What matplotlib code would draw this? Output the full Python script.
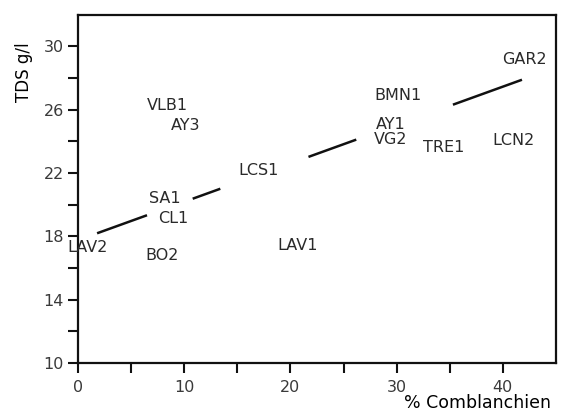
import matplotlib
matplotlib.use('Agg')
import matplotlib.pyplot as plt
import numpy as np

# sample labels and their positions (% Comblanchien, TDS g/l)
sites = ['GAR2', 'BMN1', 'AY1', 'VG2', 'TRE1', 'LCN2', 'VLB1', 'AY3',
         'LCS1', 'SA1', 'CL1', 'LAV2', 'BO2', 'LAV1']
comb = [42.0, 30.1, 29.4, 29.4, 34.4, 41.0, 8.4, 10.1,
        17.0, 8.2, 9.0, 0.95, 7.9, 20.7]
tds = [29.2, 26.9, 25.1, 24.1, 23.6, 24.05, 26.3, 25.0,
       22.15, 20.4, 19.1, 17.3, 16.8, 17.4]

# regression line, drawn in pieces between the labels
fit_slope = 0.2425
fit_intercept = 17.76
fit_pieces = [(1.8, 6.5), (10.8, 13.4), (21.7, 26.2), (35.3, 41.8)]

plt.rcParams['font.family'] = 'DejaVu Sans'

fig = plt.figure(figsize=(5.65, 4.17), dpi=100)
ax = fig.add_axes([0.138, 0.1295, 0.846, 0.835])

for x0, x1 in fit_pieces:
    xs = np.array([x0, x1])
    ax.plot(xs, fit_intercept + fit_slope * xs, color='#111111', lw=1.8,
            solid_capstyle='butt')

for name, x, y in zip(sites, comb, tds):
    ax.text(x, y, name, ha='center', va='center', fontsize=11.5,
            color='#2a2a2a')

ax.set_xlim(0, 45)
ax.set_ylim(10, 32)
ax.set_xticks([0, 10, 20, 30, 40])
ax.set_xticks([5, 15, 25, 35], minor=True)
ax.set_yticks([10, 14, 18, 22, 26, 30])
ax.set_yticks([12, 16, 20, 24, 28], minor=True)
ax.tick_params(which='both', direction='out', length=7, width=1.5,
               labelsize=11.5, labelcolor='#3a3a3a', color='#111111', pad=3)
ax.tick_params(axis='x', pad=5)

for s in ax.spines.values():
    s.set_linewidth(1.6)
    s.set_color('#111111')

ax.set_ylabel('TDS g/l', fontsize=12)
ax.yaxis.set_label_coords(-0.095, 0.835)
ax.set_xlabel('% Comblanchien', fontsize=12.5)
ax.xaxis.set_label_coords(0.835, -0.09)

fig.savefig('out.png', dpi=100)
